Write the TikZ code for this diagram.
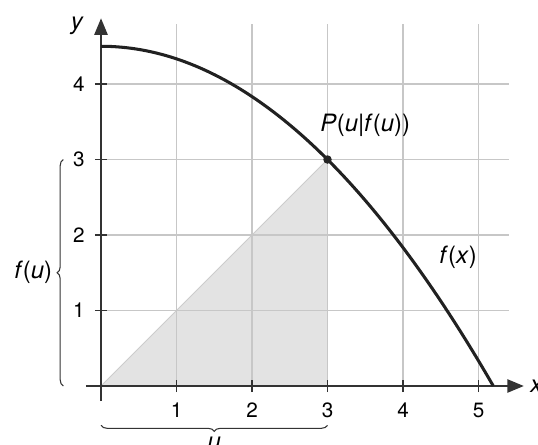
\documentclass[tikz,border=0pt]{standalone}
\usepackage{fontspec}
\setmainfont{TeX Gyre Heros}
\usepackage{tikz}
\usetikzlibrary{arrows.meta,positioning,calc,decorations.pathreplacing}

\begin{document}
\begin{tikzpicture}[
  font=\fontsize{7.8}{9}\selectfont,
  gridline/.style={draw=black!22,line width=0.45pt},
  axis/.style={draw=black!80,line width=0.6pt,-{Triangle[length=6.2pt,width=5pt]}},
  tickmark/.style={draw=black!80,line width=0.6pt},
  graph/.style={draw=black!87,line width=1.15pt},
  lbl/.style={font=\fontsize{9}{11}\selectfont},
  brace/.style={draw=black!80,line width=0.4pt,decorate,
                decoration={brace,amplitude=2.3pt}}]
\useasboundingbox (-1.338,-0.781) rectangle (5.788,5.113);
% shaded triangle below P
\fill[black!11] (0,0) -- (3,3) -- (3,0) -- cycle;
\draw[black!20,line width=0.3pt] (0,0) -- (3,3);
% grid
\foreach \x in {1,...,5} \draw[gridline] (\x,0) -- (\x,4.8);
\foreach \y in {1,...,4} \draw[gridline] (0,\y) -- (5.4,\y);
% axes
\coordinate (xa) at (-0.2,0);
\coordinate (xb) at (5.6,0);
\coordinate (ya) at (0,-0.2);
\coordinate (yb) at (0,4.87);
\draw[axis] (xa) -- (xb);
\draw[axis] (ya) -- (yb);
\node[lbl,anchor=west,inner sep=0pt] (xlab) at ($(xb)+(0.08,0)$) {\textit{x}};
\node[lbl,anchor=east,inner sep=0pt] (ylab) at ($(yb)+(-0.22,-0.1)$) {\textit{y}};
% ticks
\foreach \x in {1,...,5} {
  \draw[tickmark] (\x,-0.08) -- (\x,0.08);
  \node[anchor=north,inner sep=0pt] (xt\x) at (\x,-0.22) {\x};
}
\foreach \y in {1,...,4} {
  \draw[tickmark] (-0.08,\y) -- (0.08,\y);
  \node[anchor=east,inner sep=0pt] (yt\y) at (-0.21,\y) {\y};
}
% graph
\draw[graph] plot[domain=0:5.196,samples=80] (\x,{4.5-\x*\x/6});
\node[lbl] (flab) at (4.73,1.71) {\textit{f}(\textit{x})};
% point P
\node[circle,fill=black!85,inner sep=0pt,minimum size=3.2pt] (P) at (3,3) {};
\node[lbl,anchor=south west,inner sep=0pt] (Plab) at ($(P)+(-0.1,0.3)$)
  {\textit{P}(\textit{u}|\textit{f}(\textit{u}))};
% braces
\coordinate (lb0) at (-0.50,0);
\coordinate (lb1) at (-0.50,3);
\draw[brace] (lb0) -- (lb1);
\node[lbl,anchor=east,inner sep=0pt] (fulab) at (-0.64,1.5) {\textit{f}(\textit{u})};
\coordinate (bb0) at (3,-0.52);
\coordinate (bb1) at (0,-0.52);
\draw[brace] (bb0) -- (bb1);
\node[lbl,anchor=north,inner sep=0pt] (ulab) at (1.5,-0.67) {\textit{u}};
\end{tikzpicture}
\end{document}
